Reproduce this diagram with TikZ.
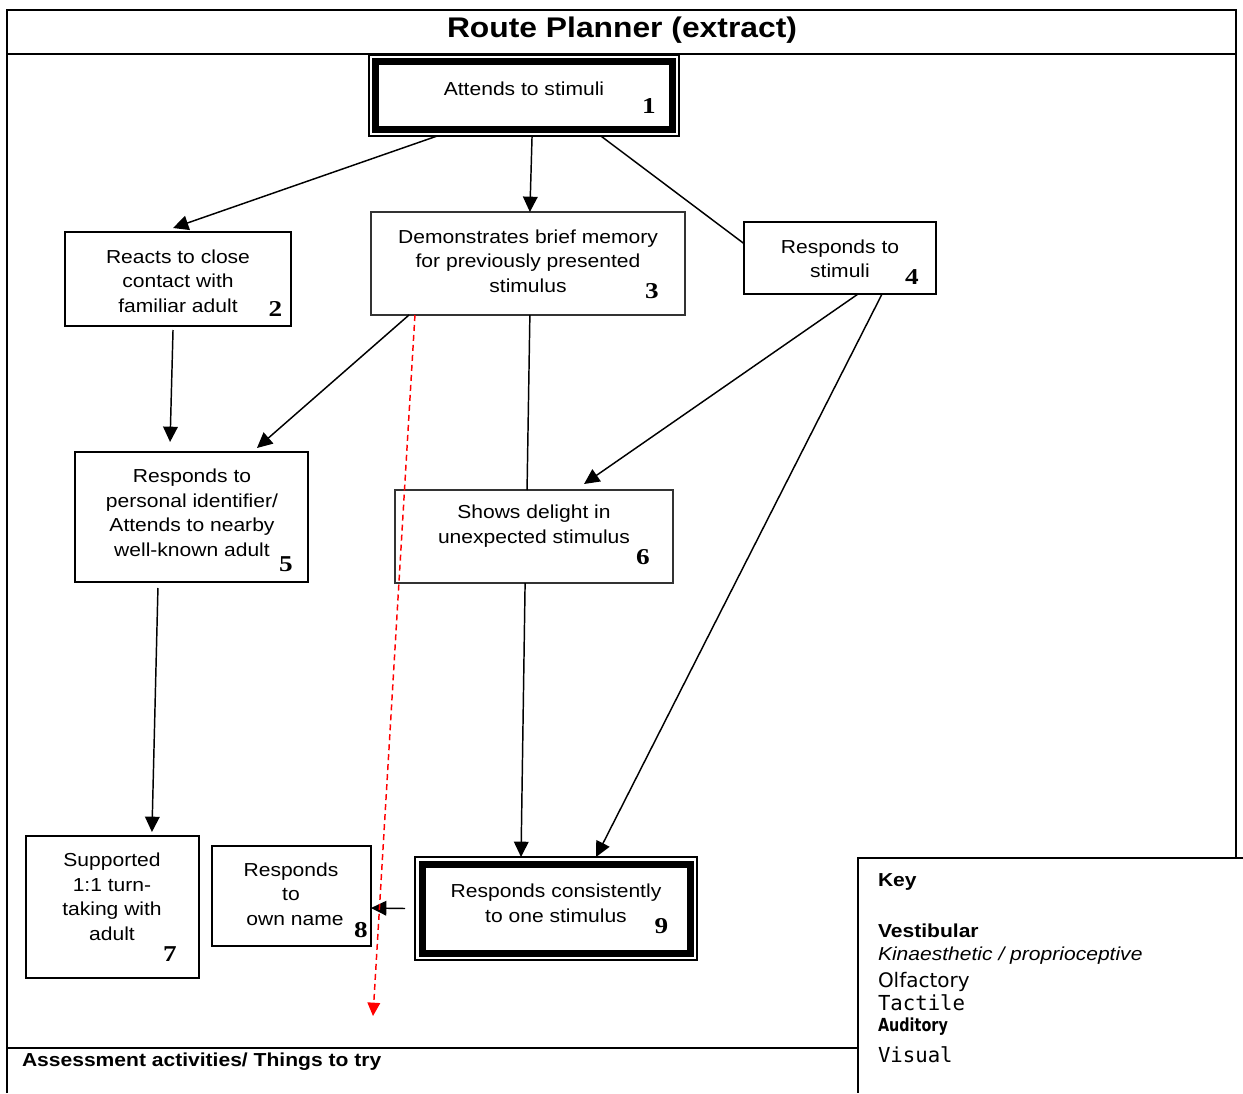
\documentclass[tikz,border=0pt]{standalone}
\usepackage{fontspec}
\setmainfont{Liberation Sans}[FakeStretch=1.12]
\newfontfamily\numfont{Liberation Serif}[FakeStretch=1.2]
\newfontfamily\olffont{DejaVu Sans}
\newfontfamily\dvmono{DejaVu Sans Mono}
\newfontfamily\audfont{DejaVu Sans}[FakeStretch=0.8]
\usetikzlibrary{calc,arrows.meta}
\begin{document}
\begin{tikzpicture}[x=0.75pt,y=-0.75pt,
  every node/.style={inner sep=0pt,outer sep=0pt,font=\fontsize{14.1}{18.4}\selectfont},
  box/.style={draw,line width=1.5pt},
  lightbox/.style={draw=black!80,line width=0.8pt},
  dblbox/.style={draw,line width=1.1pt},
  txt/.style={align=center},
  num/.style={font=\numfont\bfseries\fontsize{17}{18}\selectfont},
  conn/.style={line width=1.1pt},
  arr/.style={line width=1.1pt,-{Triangle[length=11.5pt,width=11pt]}},
  redarr/.style={line width=1.1pt,red,dash pattern=on 4.5pt off 3pt,-{Triangle[length=10pt,width=9.5pt]}},
  keytxt/.style={anchor=west}]
\useasboundingbox (0,0) rectangle (1243,1093);
% frame
\draw[line width=1.5pt] (7,1093) -- (7,10) -- (1236,10) -- (1236,858);
\draw[line width=1.5pt] (7,54) -- (1236,54);
\draw[line width=1.1pt] (7,1048) -- (858,1048);
\draw[line width=1.1pt] (1243,858) -- (858,858) -- (858,1093);
\node[font=\bfseries\fontsize{21.3}{24}\selectfont] (title) at (622,30) {Route Planner (extract)};
\node[anchor=west,font=\bfseries\fontsize{14.1}{18.4}\selectfont] (assess) at (22,1062) {Assessment activities/ Things to try};
% boxes
\node[dblbox,minimum width=232.5pt,minimum height=60.75pt] (b1) at (524,95.5) {};
\draw[line width=5.25pt] ($(b1.north west)+(6.5,6.5)$) rectangle ($(b1.south east)+(-6.5,-6.5)$);
\node[box,minimum width=169.5pt,minimum height=70.5pt] (b2) at (178,279) {};
\node[lightbox,minimum width=235.5pt,minimum height=77.25pt] (b3) at (528,263.5) {};
\node[box,minimum width=144pt,minimum height=54pt] (b4) at (840,258) {};
\node[box,minimum width=174.75pt,minimum height=97.5pt] (b5) at (191.5,517) {};
\node[lightbox,minimum width=208.5pt,minimum height=69.75pt] (b6) at (534,536.5) {};
\node[box,minimum width=129.75pt,minimum height=106.5pt] (b7) at (112.5,907) {};
\node[box,minimum width=119.25pt,minimum height=75pt] (b8) at (291.5,896) {};
\node[dblbox,minimum width=211.5pt,minimum height=77.25pt] (b9) at (556,908.5) {};
\draw[line width=5.25pt] ($(b9.north west)+(7,7)$) rectangle ($(b9.south east)+(-7,-7)$);
% texts
\node[txt] (t1) at (524,89) {Attends to stimuli};
\node[txt] (t2) at (178,281) {Reacts to close\\contact with\\familiar adult};
\node[txt] (t3) at (528,261) {Demonstrates brief memory\\for previously presented\\stimulus};
\node[txt] (t4) at (840,259) {Responds to\\stimuli};
\node[txt] (t5) at (192,513) {Responds to\\personal identifier/\\Attends to nearby\\well-known adult};
\node[txt] (t6) at (534,526) {Shows delight in\\unexpected stimulus};
\node[txt] (t7) at (112,897) {Supported\\1:1 turn-\\taking with\\adult};
\node[txt] (t8) at (291,894) {Responds\\to\\\hspace*{6pt}own name};
\node[txt] (t9) at (556,903.5) {Responds consistently\\to one stimulus};
% numbers
\node[num] (n1) at (649,106) {1};
\node[num] (n2) at (275.5,308.5) {2};
\node[num] (n3) at (652,291.5) {3};
\node[num] (n4) at (912,277.5) {4};
\node[num] (n5) at (286,564.5) {5};
\node[num] (n6) at (643,557.5) {6};
\node[num] (n7) at (170,954.5) {7};
\node[num] (n8) at (361,930.5) {8};
\node[num] (n9) at (661.5,926) {9};
% connectors
\draw[arr] ($(b1.south west)!0.22!(b1.south east)$) -- ($(b2.north west)!0.478!(b2.north east)+(0,-4)$);
\draw[arr] ($(b1.south west)!0.526!(b1.south east)$) -- ($(b3.north west)!0.506!(b3.north east)$);
\draw[conn] ($(b1.south west)!0.748!(b1.south east)$) -- ($(b4.north west)!0.3!(b4.south west)$);
\draw[arr] ($(b2.south west)!0.478!(b2.south east)+(0,4)$) -- ($(b5.north west)!0.408!(b5.north east)+(0,-10)$);
\draw[arr] ($(b3.south west)!0.121!(b3.south east)$) -- ($(b5.north west)!0.781!(b5.north east)+(0,-4)$);
\draw[conn] ($(b3.south west)!0.506!(b3.south east)$) -- ($(b6.north west)!0.475!(b6.north east)$);
\draw[arr] ($(b4.south west)!0.594!(b4.south east)$) -- ($(b6.north west)!0.68!(b6.north east)+(0,-6)$);
\draw[arr] ($(b4.south west)!0.719!(b4.south east)$) -- ($(b9.north west)!0.642!(b9.north east)$);
\draw[arr] ($(b5.south west)!0.356!(b5.south east)+(0,6)$) -- ($(b7.north west)!0.728!(b7.north east)+(0,-4)$);
\draw[arr] ($(b6.south west)!0.468!(b6.south east)$) -- ($(b9.north west)!0.376!(b9.north east)$);
\draw[arr] ($(b9.west)+(-10,0)$) -- ($(b8.north east)!0.62!(b8.south east)$);
\coordinate (redend) at (373,1016);
\draw[redarr] ($(b3.south west)!0.14!(b3.south east)$) -- (redend);
% key
\node[keytxt,font=\bfseries\fontsize{14.1}{18.4}\selectfont] (k0) at (878,882) {Key};
\node[keytxt,font=\bfseries\fontsize{14.1}{18.4}\selectfont] (k1) at (878,931) {Vestibular};
\node[keytxt,font=\itshape\fontsize{14.1}{18.4}\selectfont] (k2) at (878,956) {Kinaesthetic / proprioceptive};
\node[keytxt,font=\olffont\fontsize{15}{18}\selectfont] (k3) at (878,982) {Olfactory};
\node[keytxt,font=\dvmono\fontsize{15.5}{18}\selectfont] (k4) at (878,1003) {Tactile};
\node[keytxt,font=\audfont\bfseries\fontsize{13.5}{18}\selectfont] (k5) at (878,1027) {Auditory};
\node[keytxt,font=\dvmono\fontsize{15.5}{18}\selectfont] (k6) at (878,1055) {Visual};
\end{tikzpicture}
\end{document}
